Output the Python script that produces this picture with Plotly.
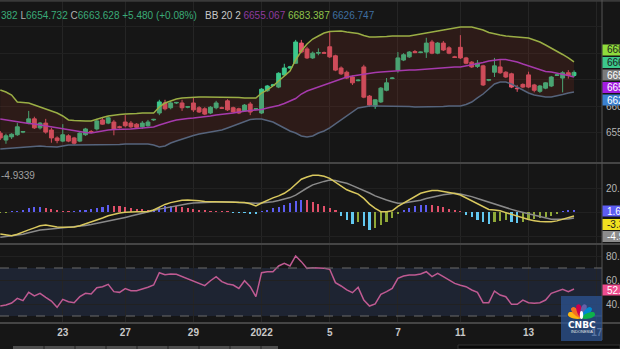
import math
import plotly.graph_objects as go

W, H = 620, 349
PLOT_R = 602  # right edge of the chart panes in px


def px(x):
    return x / W


def py(y):
    return 1 - y / H


# ---------------- data ----------------
bars = list(range(102))
tick_pos = [11, 22, 34, 46, 58, 70, 81, 93, 105]
tick_lbl = ["23", "27", "29", "2022", "5", "7", "11", "13", "17"]

open_ = [6549, 6536, 6542, 6546, 6551, 6568, 6576, 6559, 6568, 6555,
         6540, 6534, 6544, 6540, 6534, 6546, 6552, 6557, 6574, 6568,
         6570, 6561, 6570, 6568, 6566, 6561, 6563, 6574, 6587, 6606,
         6597, 6606, 6606, 6598, 6606, 6597, 6595, 6587, 6597, 6597,
         6610, 6597, 6595, 6591, 6604, 6594, 6587, 6629, 6639, 6636,
         6659, 6672, 6681, 6719, 6708, 6691, 6700, 6701, 6712, 6695,
         6672, 6664, 6655, 6648, 6674, 6619, 6600, 6608, 6630, 6652,
         6668, 6687, 6693, 6703, 6701, 6702, 6721, 6700, 6719, 6710,
         6693, 6711, 6691, 6683, 6675, 6676, 6649, 6664, 6674, 6664,
         6661, 6634, 6641, 6659, 6640, 6628, 6634, 6638, 6658, 6653,
         6663, 6657.9]
high = [6553, 6548, 6549, 6568, 6553, 6591, 6580, 6570, 6576, 6559,
        6543, 6566, 6547, 6542, 6551, 6559, 6555, 6576, 6578, 6581,
        6574, 6563, 6583, 6572, 6568, 6572, 6574, 6576, 6612, 6612,
        6609, 6608, 6612, 6600, 6617, 6600, 6598, 6600, 6610, 6599,
        6613, 6599, 6597, 6604, 6608, 6596, 6634, 6640, 6642, 6664,
        6680, 6676, 6725, 6725, 6712, 6703, 6709, 6703, 6740, 6697,
        6675, 6667, 6658, 6651, 6678, 6621, 6613, 6636, 6653, 6655,
        6702, 6700, 6704, 6706, 6703, 6729, 6725, 6721, 6723, 6713,
        6695, 6734, 6693, 6685, 6687, 6678, 6651, 6691, 6687, 6666,
        6663, 6640, 6643, 6665, 6642, 6640, 6645, 6657, 6661, 6666,
        6668, 6667.382]
low = [6536, 6529, 6538, 6544, 6549, 6566, 6557, 6556, 6548, 6531,
       6530, 6532, 6532, 6527, 6532, 6544, 6549, 6554, 6565, 6566,
       6545, 6558, 6560, 6558, 6557, 6557, 6561, 6572, 6583, 6592,
       6594, 6604, 6591, 6596, 6589, 6587, 6583, 6585, 6594, 6595,
       6591, 6587, 6585, 6589, 6583, 6592, 6585, 6627, 6638, 6634,
       6657, 6670, 6680, 6700, 6689, 6689, 6696, 6699, 6691, 6666,
       6659, 6651, 6640, 6647, 6615, 6599, 6595, 6606, 6628, 6651,
       6663, 6685, 6691, 6700, 6700, 6691, 6698, 6698, 6704, 6698,
       6691, 6689, 6679, 6672, 6672, 6638, 6647, 6655, 6661, 6653,
       6634, 6627, 6634, 6634, 6626, 6625, 6632, 6636, 6657, 6626,
       6652, 6654.732]
close = [6540, 6544, 6547, 6561, 6552, 6576, 6559, 6568, 6551, 6540,
         6535, 6546, 6534, 6530, 6549, 6557, 6551, 6572, 6566, 6578,
         6557, 6560, 6563, 6561, 6560, 6568, 6570, 6575, 6608, 6595,
         6606, 6607, 6597, 6599, 6593, 6589, 6585, 6598, 6606, 6596,
         6593, 6589, 6587, 6602, 6589, 6595, 6632, 6638, 6640, 6662,
         6672, 6674, 6721, 6702, 6691, 6700, 6701, 6700, 6693, 6668,
         6661, 6653, 6644, 6649, 6617, 6602, 6612, 6634, 6644, 6653,
         6691, 6697, 6702, 6701, 6702, 6719, 6700, 6719, 6706, 6700,
         6692, 6691, 6681, 6674, 6681, 6640, 6650, 6676, 6663, 6655,
         6636, 6633, 6636, 6636, 6630, 6638, 6644, 6655, 6659, 6663,
         6658.148, 6663.628]

bb_upper = [6630.5, 6626.7, 6621.0, 6607.8, 6606.9, 6605.9, 6602.2, 6598.4, 6594.6, 6590.8,
            6587.0, 6581.4, 6573.9, 6572.9, 6572.0, 6572.0, 6572.0, 6575.7, 6578.6, 6581.4,
            6583.3, 6584.2, 6585.2, 6585.2, 6586.1, 6587.0, 6587.0, 6587.0, 6598.4, 6605.9,
            6609.7, 6613.5, 6615.4, 6616.3, 6617.3, 6617.3, 6617.3, 6617.3, 6617.3, 6617.3,
            6617.3, 6617.3, 6616.3, 6615.4, 6615.4, 6615.4, 6624.8, 6630.5, 6638.0, 6647.5,
            6656.9, 6666.3, 6687.1, 6704.1, 6717.3, 6726.7, 6732.4, 6738.0, 6740.9, 6741.8,
            6741.8, 6739.9, 6739.0, 6737.1, 6733.3, 6730.5, 6730.5, 6730.5, 6731.4, 6732.4,
            6732.4, 6732.4, 6732.4, 6734.3, 6736.1, 6738.0, 6739.9, 6741.8, 6743.7, 6745.6,
            6747.5, 6749.4, 6749.4, 6749.4, 6746.5, 6743.7, 6739.0, 6736.1, 6734.3, 6732.4,
            6731.4, 6730.5, 6729.5, 6728.6, 6724.8, 6721.0, 6715.4, 6709.7, 6704.1, 6697.5,
            6690.9, 6683.387]
bb_basis = [6575.7, 6573.9, 6572.0, 6570.1, 6568.2, 6567.3, 6566.3, 6564.4, 6562.5, 6561.6,
            6559.7, 6557.8, 6555.0, 6553.1, 6551.2, 6550.3, 6549.3, 6551.2, 6554.1, 6555.0,
            6555.9, 6555.9, 6556.9, 6556.9, 6557.8, 6558.8, 6559.7, 6560.7, 6564.4, 6568.2,
            6571.0, 6573.9, 6575.7, 6576.7, 6577.6, 6578.6, 6579.5, 6581.4, 6583.3, 6584.2,
            6586.1, 6587.0, 6588.9, 6590.8, 6591.8, 6592.7, 6593.7, 6596.5, 6598.4, 6601.2,
            6605.0, 6609.7, 6614.4, 6622.9, 6628.6, 6632.3, 6636.1, 6639.9, 6644.6, 6648.4,
            6651.2, 6655.0, 6656.9, 6658.8, 6660.7, 6662.5, 6663.5, 6664.4, 6665.4, 6666.3,
            6666.3, 6667.3, 6668.2, 6668.2, 6669.1, 6670.1, 6670.1, 6671.0, 6672.0, 6672.9,
            6673.9, 6673.9, 6675.8, 6677.6, 6679.5, 6682.4, 6685.2, 6687.1, 6688.0, 6688.0,
            6686.1, 6683.3, 6679.5, 6675.8, 6672.0, 6668.2, 6665.4, 6664.4, 6662.5, 6660.7,
            6657.8, 6655.067]
bb_lower = [6519.1, 6520.1, 6521.0, 6522.0, 6522.9, 6523.9, 6524.8, 6524.8, 6523.9, 6522.9,
            6522.9, 6524.8, 6526.7, 6526.7, 6526.7, 6526.7, 6526.7, 6526.7, 6526.7, 6527.6,
            6527.6, 6527.6, 6528.6, 6528.6, 6528.6, 6528.6, 6528.6, 6526.7, 6522.9, 6524.8,
            6530.4, 6534.2, 6538.0, 6541.8, 6544.6, 6547.4, 6549.3, 6551.2, 6553.1, 6555.0,
            6558.8, 6562.5, 6566.3, 6570.1, 6574.8, 6575.7, 6575.7, 6572.9, 6570.1, 6564.4,
            6558.8, 6553.1, 6549.3, 6543.7, 6541.8, 6543.7, 6549.3, 6553.1, 6558.8, 6566.3,
            6573.9, 6581.4, 6588.9, 6596.5, 6598.4, 6600.3, 6600.3, 6600.3, 6600.3, 6600.3,
            6600.3, 6600.3, 6599.3, 6598.4, 6598.4, 6598.4, 6598.4, 6598.4, 6599.3, 6600.3,
            6600.3, 6600.3, 6603.1, 6607.8, 6615.4, 6622.9, 6632.3, 6641.8, 6645.6, 6645.6,
            6641.8, 6636.1, 6630.5, 6624.8, 6621.0, 6619.1, 6617.3, 6617.3, 6619.1, 6622.0,
            6624.8, 6626.747]

macd = [-18.3, -19.2, -19.8, -18.5, -17.0, -14.9, -13.2, -11.4, -10.8, -11.8,
        -12.5, -12.7, -12.7, -12.4, -11.5, -10.0, -8.4, -6.8, -5.0, -3.1,
        -1.8, -0.8, -0.2, 0.2, 0.3, 0.3, 0.4, 1.7, 4.2, 6.3,
        7.8, 9.0, 9.8, 10.0, 10.0, 9.4, 8.8, 8.6, 8.6, 8.6,
        8.6, 8.4, 8.1, 7.9, 6.8, 5.0, 7.5, 9.8, 11.8, 13.4,
        15.6, 18.8, 23.0, 27.3, 29.2, 30.6, 30.6, 29.8, 28.0, 25.0,
        21.8, 18.5, 16.7, 14.9, 11.3, 6.6, 3.0, 0.3, 0.2, 1.0,
        4.7, 7.5, 10.5, 13.2, 15.6, 16.8, 18.0, 18.0, 17.3, 16.6,
        15.4, 14.2, 11.8, 9.4, 6.5, 4.2, 2.1, 1.6, 1.1, -0.5,
        -2.0, -3.6, -5.2, -6.3, -7.2, -8.0, -8.1, -8.1, -7.4, -6.2,
        -5.1, -3.3339]
signal = [-21.1, -20.6, -20.0, -19.4, -18.5, -17.3, -16.1, -15.0, -14.6, -14.2,
          -13.8, -13.5, -13.0, -12.5, -12.1, -11.3, -10.5, -9.6, -8.7, -7.5,
          -6.6, -5.6, -4.5, -3.4, -2.4, -1.2, 0.0, 1.2, 2.4, 3.4,
          4.3, 5.2, 6.0, 6.8, 7.4, 7.8, 8.0, 8.2, 8.4, 8.5,
          8.6, 8.4, 8.0, 7.6, 7.3, 7.2, 7.5, 7.8, 8.6, 9.6,
          10.6, 12.0, 14.0, 17.2, 20.0, 22.6, 24.3, 25.5, 26.6, 26.2,
          25.0, 23.9, 22.0, 20.1, 18.0, 15.8, 13.4, 11.4, 10.0, 8.6,
          7.3, 7.6, 8.2, 8.6, 9.8, 11.2, 12.5, 13.4, 14.3, 15.2,
          15.6, 15.0, 14.0, 12.8, 11.2, 9.6, 8.0, 7.0, 5.4, 3.8,
          2.2, 0.8, -0.4, -1.6, -2.7, -3.8, -5.0, -6.0, -6.1, -6.1,
          -5.8, -4.9339]
hist = [-0.5, -0.3, 0.3, 0.5, 1.0, 3.0, 3.8, 4.2, 3.0, 2.2,
        1.2, 0.8, 0.5, 0.8, 1.2, 1.8, 2.5, 3.4, 4.5, 5.5,
        5.0, 4.8, 4.3, 3.6, 2.7, 2.5, 1.8, 2.5, 4.0, 4.8,
        5.2, 4.8, 4.0, 3.2, 2.4, 1.5, 1.0, 0.8, 0.6, 0.4,
        0.3, -0.2, -0.4, -0.6, -1.0, -1.6, 0.5, 1.8, 3.0, 4.5,
        6.0, 7.5, 9.5, 10.2, 9.7, 8.3, 6.7, 4.6, 3.3, 1.7,
        -3.3, -6.7, -10.0, -8.3, -11.7, -15.0, -13.3, -11.0, -8.3, -5.0,
        -1.5, 1.7, 3.3, 5.0, 5.7, 6.0, 5.7, 5.0, 4.0, 2.3,
        1.7, 0.5, -2.3, -4.3, -6.7, -8.3, -10.0, -8.3, -7.7, -7.0,
        -8.3, -9.3, -8.3, -6.7, -5.7, -5.0, -4.3, -3.3, -1.7, 0.5,
        1.0, 1.6]

rsi = [38.3, 39.2, 40.8, 44.7, 42.8, 49.7, 46.7, 48.9, 45.6, 42.5,
       37.2, 43.9, 41.9, 41.1, 46.1, 48.9, 48.3, 53.6, 54.4, 56.4,
       50.3, 49.7, 52.8, 51.1, 51.1, 52.2, 53.9, 55.8, 66.1, 64.4,
       65.0, 64.7, 62.8, 60.6, 59.2, 57.2, 55.3, 59.4, 62.8, 58.6,
       56.7, 55.8, 53.0, 59.4, 54.4, 46.1, 66.1, 66.9, 66.9, 71.7,
       73.9, 71.7, 80.0, 75.3, 69.7, 70.3, 70.3, 69.7, 68.9, 57.8,
       55.0, 51.7, 49.4, 53.9, 43.3, 38.3, 40.0, 48.1, 50.3, 53.0,
       61.4, 63.3, 64.2, 64.2, 65.0, 66.9, 62.8, 65.6, 62.8, 60.0,
       57.2, 55.6, 54.4, 51.7, 49.7, 41.1, 41.1, 50.8, 47.5, 46.1,
       39.7, 39.7, 43.3, 41.1, 40.6, 41.1, 43.3, 48.9, 50.3, 52.2,
       50.3, 52.5]

# ---------------- styling ----------------
BG = "#161616"
GRID = "#252525"
UP = "#3cc88c"
DOWN = "#e9566c"
C_UPPER = "#9aae45"
C_BASIS = "#a63aac"
C_LOWER = "#56647c"
FONT = "Liberation Sans"


def hist_color(i):
    v = hist[i]
    prev = hist[i - 1] if i > 0 else v
    if v >= 0:
        return "#5d5df2" if v >= prev else "#e0506a"
    return "#8fa838" if v >= prev else "#62c8f0"


fig = go.Figure()

# Bollinger Bands
fig.add_trace(go.Scatter(x=bars, y=bb_lower, mode="lines", line=dict(color=C_LOWER, width=1.5),
                         xaxis="x", yaxis="y", hoverinfo="skip"))
fig.add_trace(go.Scatter(x=bars, y=bb_upper, mode="lines", line=dict(color=C_UPPER, width=1.5),
                         fill="tonexty", fillcolor="rgba(120,45,35,0.24)",
                         xaxis="x", yaxis="y", hoverinfo="skip"))
fig.add_trace(go.Scatter(x=bars, y=bb_basis, mode="lines", line=dict(color=C_BASIS, width=1.5),
                         xaxis="x", yaxis="y", hoverinfo="skip"))
# Candles
fig.add_trace(go.Candlestick(
    x=bars, open=open_, high=high, low=low, close=close,
    increasing=dict(line=dict(color=UP, width=1), fillcolor=UP),
    decreasing=dict(line=dict(color=DOWN, width=1), fillcolor=DOWN),
    whiskerwidth=0, xaxis="x", yaxis="y", hoverinfo="skip"))

# MACD
fig.add_trace(go.Bar(x=bars, y=hist, width=0.38,
                     marker=dict(color=[hist_color(i) for i in bars], line=dict(width=0)),
                     xaxis="x2", yaxis="y2", hoverinfo="skip"))
fig.add_trace(go.Scatter(x=bars, y=signal, mode="lines", line=dict(color="#8a8a8a", width=1.5),
                         xaxis="x2", yaxis="y2", hoverinfo="skip"))
fig.add_trace(go.Scatter(x=bars, y=macd, mode="lines", line=dict(color="#d9c85e", width=1.5),
                         xaxis="x2", yaxis="y2", hoverinfo="skip"))

# RSI
fig.add_trace(go.Scatter(x=bars, y=rsi, mode="lines", line=dict(color="#bf5a92", width=1.5),
                         xaxis="x3", yaxis="y3", hoverinfo="skip"))

x_range = [-0.05, 105.93]
x_common = dict(domain=[0, PLOT_R / W], range=x_range, tickvals=tick_pos, ticktext=tick_lbl,
                showgrid=True, gridcolor=GRID, gridwidth=1, zeroline=False, showline=False,
                ticks="", fixedrange=True, automargin=False)
y_common = dict(side="right", showgrid=True, gridcolor="#212121", zeroline=False, showline=False,
                ticks="", tickfont=dict(family=FONT, size=10, color="#b4b4b4"), fixedrange=True,
                automargin=False, ticklabelstandoff=3)

# grid levels whose labels sit under a value tag carry no text
fig.update_layout(
    width=W, height=H, margin=dict(l=0, r=0, t=0, b=0, autoexpand=False),
    paper_bgcolor=BG, plot_bgcolor=BG, showlegend=False,
    boxgap=0.2, boxgroupgap=0.15, bargap=0,
    xaxis=dict(**x_common, anchor="y", showticklabels=False, rangeslider=dict(visible=False)),
    xaxis2=dict(**x_common, anchor="y2", showticklabels=False),
    xaxis3=dict(**x_common, anchor="y3", showticklabels=True, ticklabelstandoff=3,
                tickfont=dict(family=FONT, size=10, color="#c8c8c8", weight="bold")),
    yaxis=dict(**y_common, anchor="x", domain=[py(162), 1], range=[6494.6, 6800.3],
               tickvals=[6550, 6600, 6650, 6700, 6750],
               ticktext=["6550.000", "6600.000", "", "", ""]),
    yaxis2=dict(**y_common, anchor="x2", domain=[py(243), py(164)], range=[-25.83, 40],
                tickvals=[-20, 0, 20], ticktext=["", "", "20.0000"]),
    yaxis3=dict(**y_common, anchor="x3", domain=[py(322), py(245)], range=[25, 89.17],
                tickvals=[40, 60, 80], ticktext=["40.00", "60.00", "80.00"]),
)

shapes = []
# RSI band and levels
shapes.append(dict(type="rect", xref="paper", yref="y3", x0=0, x1=px(PLOT_R), y0=30, y1=70,
                   fillcolor="rgba(55,75,125,0.28)", line=dict(width=0), layer="below"))
for lvl in (30, 70):
    shapes.append(dict(type="line", xref="paper", yref="y3", x0=0, x1=px(PLOT_R), y0=lvl, y1=lvl,
                       line=dict(color="#6a6a6a", width=1, dash="dash")))
# pane separators
for yy in (163, 244, 323):
    shapes.append(dict(type="line", xref="paper", yref="paper", x0=0, x1=1, y0=py(yy), y1=py(yy),
                       line=dict(color="#454545", width=2)))
shapes.append(dict(type="line", xref="paper", yref="paper", x0=0, x1=1, y0=py(0.8), y1=py(0.8),
                   line=dict(color="#3a3a3a", width=2)))
# price-scale border
shapes.append(dict(type="line", xref="paper", yref="paper", x0=px(PLOT_R), x1=px(PLOT_R),
                   y0=py(0), y1=py(340), line=dict(color="#555555", width=1)))

annotations = []


def scale_tag(ycenter, text, bg, fg, h=11):
    shapes.append(dict(type="rect", xref="paper", yref="paper", x0=px(PLOT_R + 0.5), x1=1,
                       y0=py(ycenter + h / 2), y1=py(ycenter - h / 2),
                       fillcolor=bg, line=dict(width=0), layer="above"))
    annotations.append(dict(xref="paper", yref="paper", x=px(PLOT_R + 4), y=py(ycenter),
                            xanchor="left", yanchor="middle", text=text, showarrow=False,
                            borderpad=0, font=dict(family=FONT, size=10, color=fg)))


scale_tag(50, "6683.387", "#8fdc3c", "#1b1b1b")
scale_tag(62.5, "6663.628", "#3cc88c", "#1b1b1b")
scale_tag(75, "6658.148", "#7a7a7a", "#ffffff")
scale_tag(87.5, "6655.067", "#a21ce0", "#ffffff")
scale_tag(100, "6626.747", "#3a80d0", "#ffffff")
scale_tag(211, "1.6000", "#5d5df2", "#ffffff")
scale_tag(224.5, "-3.3339", "#f0e020", "#1b1b1b")
scale_tag(236.5, "-4.9339", "#8c8c8c", "#ffffff")
scale_tag(290, "52.50", "#ee4d8e", "#ffffff")

# legend line of the price pane
G = "#3aaa78"
L = "#b0b0b0"
header = (f'<span style="color:{G}">382</span> <span style="color:{L}">L</span>'
          f'<span style="color:{G}">6654.732</span> <span style="color:{L}">C</span>'
          f'<span style="color:{G}">6663.628</span> <span style="color:{G}">+5.480 (+0.08%)</span>'
          f'&nbsp;&nbsp; <span style="color:#c8c8c8">BB 20 2</span> '
          f'<span style="color:#8e3a9e">6655.067</span> <span style="color:#8fc34a">6683.387</span> '
          f'<span style="color:#3f6fa0">6626.747</span>')
annotations.append(dict(xref="paper", yref="paper", x=0, y=py(15), xanchor="left", yanchor="middle",
                        text=header, showarrow=False, borderpad=0,
                        font=dict(family=FONT, size=10, color=L)))
annotations.append(dict(xref="paper", yref="paper", x=0, y=py(175), xanchor="left", yanchor="middle",
                        text="-4.9339", showarrow=False, borderpad=0,
                        font=dict(family=FONT, size=10, color="#a0a0a0")))

# bottom toolbar strip
shapes.append(dict(type="rect", xref="paper", yref="paper", x0=px(13), x1=px(278), y0=0, y1=py(346),
                   fillcolor="#4e4e4e", line=dict(width=0)))
for xx in (44, 75, 106, 137, 168, 199, 230, 261):
    shapes.append(dict(type="line", xref="paper", yref="paper", x0=px(xx), x1=px(xx), y0=0, y1=py(346),
                       line=dict(color="#222222", width=1)))
shapes.append(dict(type="rect", xref="paper", yref="paper", x0=px(458), x1=1, y0=0, y1=py(345),
                   fillcolor="#0a0a0a", line=dict(color="#333333", width=1)))

# CNBC Indonesia badge (translucent, the last date label shows through it)
shapes.append(dict(type="rect", xref="paper", yref="paper", x0=px(561), x1=px(602), y0=py(341), y1=py(296),
                   fillcolor="rgba(45,85,150,0.72)", line=dict(width=0), layer="above"))


def feather(cx, cy, ang, length, width, color):
    a = math.radians(ang)
    dx, dy = math.sin(a), -math.cos(a)
    nx, ny = math.cos(a), math.sin(a)
    tip = (cx + dx * length, cy + dy * length)
    c1 = (cx + dx * length * 0.25 + nx * width, cy + dy * length * 0.25 + ny * width)
    c2 = (cx + dx * length * 1.1 + nx * width * 0.9, cy + dy * length * 1.1 + ny * width * 0.9)
    c3 = (cx + dx * length * 1.1 - nx * width * 0.9, cy + dy * length * 1.1 - ny * width * 0.9)
    c4 = (cx + dx * length * 0.25 - nx * width, cy + dy * length * 0.25 - ny * width)

    def p(pt):
        return f"{px(pt[0]):.5f},{py(pt[1]):.5f}"

    path = (f"M {p((cx, cy))} C {p(c1)} {p(c2)} {p(tip)} C {p(c3)} {p(c4)} {p((cx, cy))} Z")
    shapes.append(dict(type="path", xref="paper", yref="paper", path=path,
                       fillcolor=color, line=dict(width=0), layer="above"))


peacock = ["#fcb711", "#f37021", "#cc004c", "#6460aa", "#0089d0", "#0db14b"]
for k, col in enumerate(peacock):
    feather(581.5, 318, -72 + k * 28.8, 14, 4.0, col)
shapes.append(dict(type="circle", xref="paper", yref="paper", x0=px(579.8), x1=px(583.2),
                   y0=py(319), y1=py(311), fillcolor="#ffffff", line=dict(width=0), layer="above"))
annotations.append(dict(xref="paper", yref="paper", x=px(581.5), y=py(325), xanchor="center",
                        yanchor="middle", text="<b>CNBC</b>", showarrow=False, borderpad=0,
                        font=dict(family="DejaVu Sans", size=9, color="#ffffff")))
annotations.append(dict(xref="paper", yref="paper", x=px(581.5), y=py(331), xanchor="center",
                        yanchor="middle", text="INDONESIA", showarrow=False, borderpad=0,
                        font=dict(family=FONT, size=4, color="#e8e8e8")))

fig.update_layout(shapes=shapes, annotations=annotations)
fig.write_html("out.html")
